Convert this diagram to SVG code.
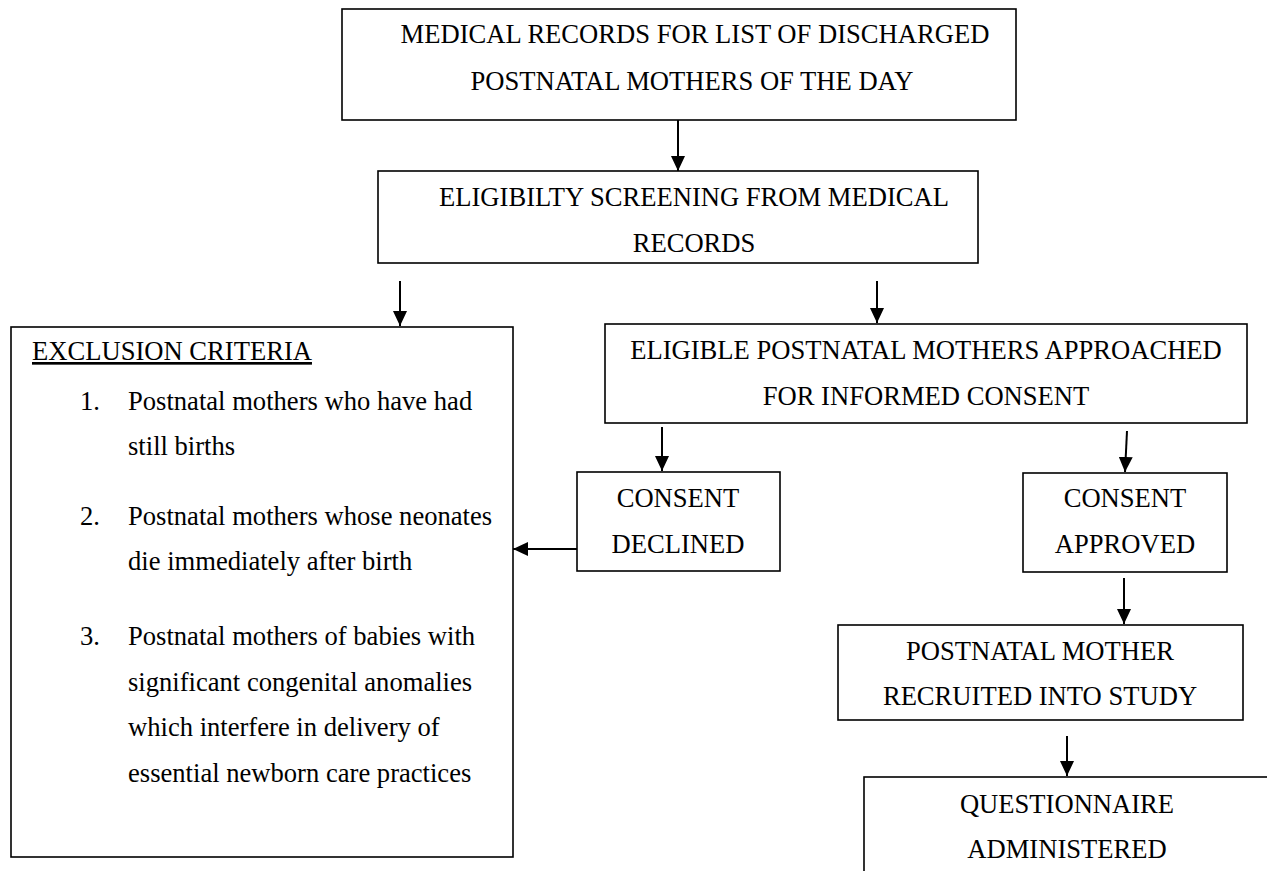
<svg xmlns="http://www.w3.org/2000/svg" width="1267" height="871" viewBox="0 0 1267 871">
<style>
.box{fill:#fff;stroke:#000;stroke-width:1.6}
.t{font-family:"Liberation Serif","Times New Roman",serif;font-size:26.6px;fill:#000}
.c{text-anchor:middle}
.conn line{stroke:#000;stroke-width:2}
</style>
<defs>
<marker id="ah" viewBox="0 0 15 14" refX="15" refY="7" markerWidth="15" markerHeight="14" markerUnits="userSpaceOnUse" orient="auto">
<path d="M0,0 L15,7 L0,14 z" fill="#000"/>
</marker>
</defs>
<rect width="1267" height="871" fill="#fff"/>
<g id="n1">
<rect class="box" x="342" y="9" width="674" height="111"/>
<text class="t c" x="695" y="43">MEDICAL RECORDS FOR LIST OF DISCHARGED</text>
<text class="t c" x="692" y="90">POSTNATAL MOTHERS OF THE DAY</text>
</g>
<g id="n2">
<rect class="box" x="378" y="171" width="600" height="92"/>
<text class="t c" x="694" y="206">ELIGIBILTY SCREENING FROM MEDICAL</text>
<text class="t c" x="694" y="252">RECORDS</text>
</g>
<g id="n3">
<rect class="box" x="11" y="327" width="502" height="530"/>
<text class="t" x="32" y="360" text-decoration="underline">EXCLUSION CRITERIA</text>
<text class="t" x="80" y="410">1.</text>
<text class="t" x="128" y="410">Postnatal mothers who have had</text>
<text class="t" x="128" y="455">still births</text>
<text class="t" x="80" y="525">2.</text>
<text class="t" x="128" y="525">Postnatal mothers whose neonates</text>
<text class="t" x="128" y="570">die immediately after birth</text>
<text class="t" x="80" y="645">3.</text>
<text class="t" x="128" y="645">Postnatal mothers of babies with</text>
<text class="t" x="128" y="691">significant congenital anomalies</text>
<text class="t" x="128" y="736">which interfere in delivery of</text>
<text class="t" x="128" y="782">essential newborn care practices</text>
</g>
<g id="n4">
<rect class="box" x="605" y="324" width="642" height="99"/>
<text class="t c" x="926" y="359">ELIGIBLE POSTNATAL MOTHERS APPROACHED</text>
<text class="t c" x="926" y="405">FOR INFORMED CONSENT</text>
</g>
<g id="n5">
<rect class="box" x="577" y="472" width="203" height="99"/>
<text class="t c" x="678" y="507">CONSENT</text>
<text class="t c" x="678" y="553">DECLINED</text>
</g>
<g id="n6">
<rect class="box" x="1023" y="473" width="204" height="99"/>
<text class="t c" x="1125" y="507">CONSENT</text>
<text class="t c" x="1125" y="553">APPROVED</text>
</g>
<g id="n7">
<rect class="box" x="838" y="625" width="405" height="95"/>
<text class="t c" x="1040" y="660">POSTNATAL MOTHER</text>
<text class="t c" x="1040" y="705">RECRUITED INTO STUDY</text>
</g>
<g id="n8">
<rect class="box" x="864" y="777" width="440" height="140"/>
<text class="t c" x="1067" y="813">QUESTIONNAIRE</text>
<text class="t c" x="1067" y="858">ADMINISTERED</text>
</g>
<g id="connectors" class="conn">
<line x1="678" y1="120" x2="678" y2="171" marker-end="url(#ah)"/>
<line x1="400" y1="281" x2="400" y2="326" marker-end="url(#ah)"/>
<line x1="877" y1="281" x2="877" y2="323" marker-end="url(#ah)"/>
<line x1="662" y1="427" x2="662" y2="471" marker-end="url(#ah)"/>
<line x1="1127" y1="431" x2="1125" y2="472" marker-end="url(#ah)"/>
<line x1="577" y1="549" x2="513" y2="549" marker-end="url(#ah)"/>
<line x1="1124" y1="578" x2="1124" y2="624" marker-end="url(#ah)"/>
<line x1="1067" y1="736" x2="1067" y2="776" marker-end="url(#ah)"/>
</g>
</svg>
